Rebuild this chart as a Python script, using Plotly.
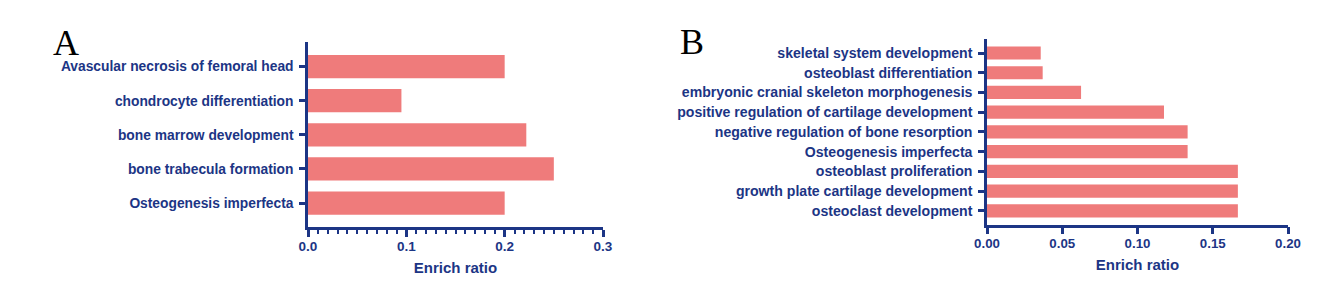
import plotly.graph_objects as go

# ---------------- data ----------------
a_categories = [
    "Osteogenesis imperfecta",
    "bone trabecula formation",
    "bone marrow development",
    "chondrocyte differentiation",
    "Avascular necrosis of femoral head",
]
a_values = [0.200, 0.250, 0.222, 0.095, 0.200]

b_categories = [
    "osteoclast development",
    "growth plate cartilage development",
    "osteoblast proliferation",
    "Osteogenesis imperfecta",
    "negative regulation of bone resorption",
    "positive regulation of cartilage development",
    "embryonic cranial skeleton morphogenesis",
    "osteoblast differentiation",
    "skeletal system development",
]
b_values = [0.1667, 0.1667, 0.1667, 0.1333, 0.1333, 0.1176, 0.0625, 0.0370, 0.0357]

a_xticks = [0.0, 0.1, 0.2, 0.3]
a_xticklabels = ["0.0", "0.1", "0.2", "0.3"]
b_xticks = [0.0, 0.05, 0.10, 0.15, 0.20]
b_xticklabels = ["0.00", "0.05", "0.10", "0.15", "0.20"]
x_title = "Enrich ratio"
panel_labels = ["A", "B"]

# ---------------- style ----------------
W, H = 1321, 288
NAVY = "#1C3585"
BAR = "#EF7B7B"
SANS = "Liberation Sans, Arial, sans-serif"
SERIF = "Liberation Serif, Times New Roman, serif"
LW = 2.5

fig = go.Figure()
fig.add_trace(go.Bar(x=a_values, y=a_categories, orientation="h",
                     marker=dict(color=BAR, line=dict(width=0)), width=0.68,
                     xaxis="x", yaxis="y", hoverinfo="x+y"))
fig.add_trace(go.Bar(x=b_values, y=b_categories, orientation="h",
                     marker=dict(color=BAR, line=dict(width=0)), width=0.67,
                     xaxis="x2", yaxis="y2", hoverinfo="x+y"))


def px_x(p):
    return p / W


def px_y(p):
    return 1 - p / H


common_axis = dict(showgrid=False, zeroline=False, showline=True, linecolor=NAVY,
                   linewidth=LW, ticks="outside", tickcolor=NAVY, tickwidth=LW,
                   automargin=False)

fig.update_layout(
    width=W, height=H,
    margin=dict(l=0, r=0, t=0, b=0, pad=0, autoexpand=False),
    paper_bgcolor="white", plot_bgcolor="white",
    showlegend=False,
    xaxis=dict(**common_axis, domain=[px_x(308), px_x(603)], anchor="y",
               range=[0, 0.3], tickvals=a_xticks, ticktext=a_xticklabels,
               ticklen=7, ticklabelstandoff=-2,
               minor=dict(dtick=0.01, tick0=0, ticks="outside", ticklen=4,
                          tickwidth=2, tickcolor=NAVY, showgrid=False),
               tickfont=dict(family=SANS, size=13.5, color=NAVY, weight="bold"),
               title=dict(text=x_title, standoff=10,
                          font=dict(family=SANS, size=15, color=NAVY, weight="bold"))),
    yaxis=dict(**common_axis, domain=[px_y(227), px_y(42)], anchor="x",
               range=[-0.7, 4.72], type="category", ticklen=6,
               ticklabelstandoff=3,
               tickfont=dict(family=SANS, size=13.8, color=NAVY, weight="bold")),
    xaxis2=dict(**common_axis, domain=[px_x(987), px_x(1288)], anchor="y2",
                range=[0, 0.2], tickvals=b_xticks, ticktext=b_xticklabels,
                ticklen=7, ticklabelstandoff=-2,
                tickfont=dict(family=SANS, size=13.3, color=NAVY, weight="bold"),
                title=dict(text=x_title, standoff=10,
                           font=dict(family=SANS, size=15, color=NAVY, weight="bold"))),
    yaxis2=dict(**common_axis, domain=[px_y(224.5), px_y(39)], anchor="x2",
                range=[-0.69, 8.71], type="category", ticklen=6,
                ticklabelstandoff=3,
                tickfont=dict(family=SANS, size=14.1, color=NAVY, weight="bold")),
    annotations=[
        dict(text=panel_labels[0], x=px_x(66), y=px_y(43), xref="paper", yref="paper",
             xanchor="center", yanchor="middle", showarrow=False,
             font=dict(family=SERIF, size=36, color="black")),
        dict(text=panel_labels[1], x=px_x(692), y=px_y(42), xref="paper", yref="paper",
             xanchor="center", yanchor="middle", showarrow=False,
             font=dict(family=SERIF, size=36, color="black")),
    ],
)

fig.write_html("out.html")
